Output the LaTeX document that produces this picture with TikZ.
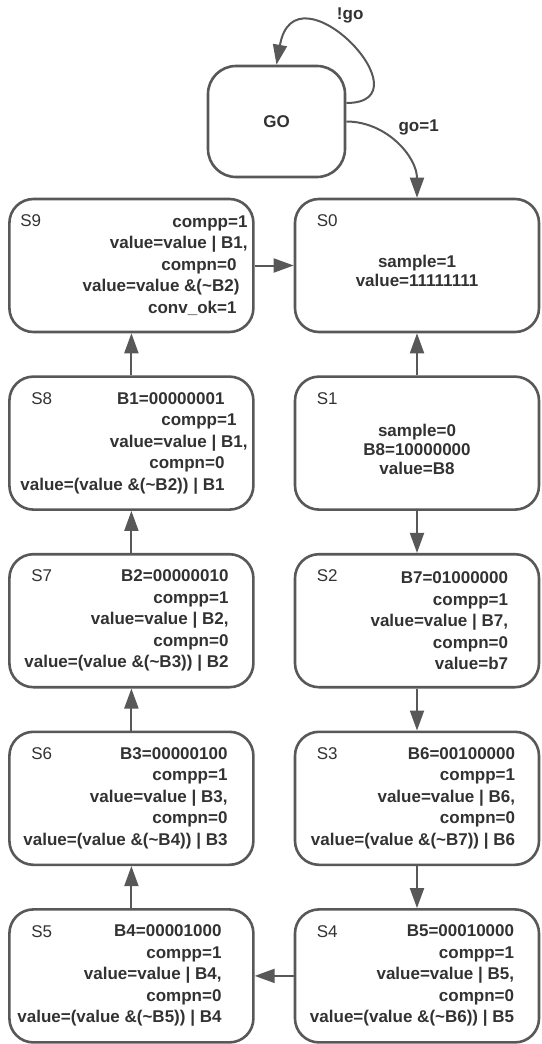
\documentclass[tikz,border=0pt]{standalone}
\usepackage{fontspec}
\setmainfont{Liberation Sans}
\usepackage{xcolor}
\usepackage{tikz}
\usetikzlibrary{arrows.meta, positioning}
\definecolor{linegray}{RGB}{88, 88, 88}
\definecolor{inkgray}{RGB}{50, 50, 50}

\begin{document}
\begin{tikzpicture}[
    statebox/.style={
        rectangle, draw=linegray, line width=2.6pt, rounded corners=24pt,
        minimum width=244pt, minimum height=133pt
    },
    gobox/.style={
        rectangle, draw=linegray, line width=2.6pt, rounded corners=28pt,
        minimum width=137pt, minimum height=111pt,
        font=\bfseries\fontsize{17}{20}\selectfont, text=inkgray
    },
    statename/.style={
        anchor=north west, inner sep=0pt, xshift=23pt, yshift=-17pt,
        font=\fontsize{17}{20}\selectfont, text=inkgray
    },
    bodytext/.style={
        inner sep=0pt, align=right, anchor=east,
        font=\bfseries\fontsize{17}{21.5}\selectfont, text=inkgray
    },
    edgelabel/.style={font=\bfseries\fontsize{17}{20}\selectfont, text=inkgray},
    arrow/.style={-{Triangle[length=20pt, width=14pt]}, line width=2pt, draw=linegray}
]
    \useasboundingbox (0,0) rectangle (541pt,-1044pt);

    % start state
    \node [gobox] (go) at (276.5pt,-121.5pt) {GO};

    % right column
    \node [statebox, label={[statename]north west:S0}] (s0) at (417pt,-265.5pt) {};
    \node [statebox, below=42pt of s0, label={[statename]north west:S1}] (s1) {};
    \node [statebox, below=42pt of s1, label={[statename]north west:S2}] (s2) {};
    \node [statebox, below=42pt of s2, label={[statename]north west:S3}] (s3) {};
    \node [statebox, below=42pt of s3, label={[statename]north west:S4}] (s4) {};

    % left column
    \node [statebox, left=39pt of s0, label={[statename, xshift=-11pt]north west:S9}] (s9) {};
    \node [statebox, left=39pt of s1, label={[statename]north west:S8}] (s8) {};
    \node [statebox, left=39pt of s2, label={[statename]north west:S7}] (s7) {};
    \node [statebox, left=39pt of s3, label={[statename]north west:S6}] (s6) {};
    \node [statebox, left=39pt of s4, label={[statename]north west:S5}] (s5) {};

    % state outputs
    \node [bodytext, align=center, anchor=center, font=\bfseries\fontsize{17}{19}\selectfont]
        (s0txt) at ([yshift=-5pt]s0.center) {sample=1\\value=11111111};
    \node [bodytext, align=center, anchor=center, font=\bfseries\fontsize{17}{19}\selectfont]
        (s1txt) at ([yshift=-6pt]s1.center) {sample=0\\B8=10000000\\value=B8};
    \node [bodytext, left=32pt of s2.east] (s2txt) {
        B7=01000000\\ compp=1\\ value=value | B7,\\ compn=0\\ value=b7
    };
    \node [bodytext, left=25pt of s3.east] (s3txt) {
        B6=00100000\\ compp=1\\ value=value | B6,\\ compn=0\\
        value=(value \&(\textasciitilde B7)) | B6
    };
    \node [bodytext, left=26pt of s4.east] (s4txt) {
        B5=00010000\\ compp=1\\ value=value | B5,\\ compn=0\\
        value=(value \&(\textasciitilde B6)) | B5
    };
    \node [bodytext, left=33pt of s5.east] (s5txt) {
        B4=00001000\\ compp=1\\ value=value | B4,\\ compn=0\\
        value=(value \&(\textasciitilde B5)) | B4
    };
    \node [bodytext, left=27pt of s6.east] (s6txt) {
        B3=00000100\\ compp=1\\ value=value | B3,\\ compn=0\\
        value=(value \&(\textasciitilde B4)) | B3
    };
    \node [bodytext, left=26pt of s7.east] (s7txt) {
        B2=00000010\\ compp=1\\ value=value | B2,\\ compn=0\\
        value=(value \&(\textasciitilde B3)) | B2
    };
    \node [bodytext, left=30pt of s8.east] (s8txt) {
        B1=00000001\\ compp=1\kern-12pt\\ value=value | B1,\kern-23pt\\ compn=0\\
        value=(value \&(\textasciitilde B2)) | B1
    };
    \node [bodytext, left=18pt of s9.east] (s9txt) {
        compp=1\kern-11pt\\ value=value | B1,\kern-11pt\\ compn=0\\
        value=value \&(\textasciitilde B2)\kern-3pt\\ conv\_ok=1
    };

    % transitions
    \draw [arrow] ([yshift=18.5pt]go.east)
        to[out=0, in=80, out distance=85pt, in distance=106pt]
        node [edgelabel, pos=0.5, above=17pt] {!go} (go.north);
    \draw [arrow] (go.east) to[out=0, in=90]
        node [edgelabel, pos=0.35, anchor=south west, xshift=10pt, yshift=-6pt] {go=1} (s0.north);

    \draw [arrow] (s1) -- (s0);
    \draw [arrow] (s1) -- (s2);
    \draw [arrow] (s2) -- (s3);
    \draw [arrow] (s3) -- (s4);
    \draw [arrow] (s4) -- (s5);
    \draw [arrow] (s5) -- (s6);
    \draw [arrow] (s6) -- (s7);
    \draw [arrow] (s7) -- (s8);
    \draw [arrow] (s8) -- (s9);
    \draw [arrow] (s9) -- (s0);
\end{tikzpicture}
\end{document}
